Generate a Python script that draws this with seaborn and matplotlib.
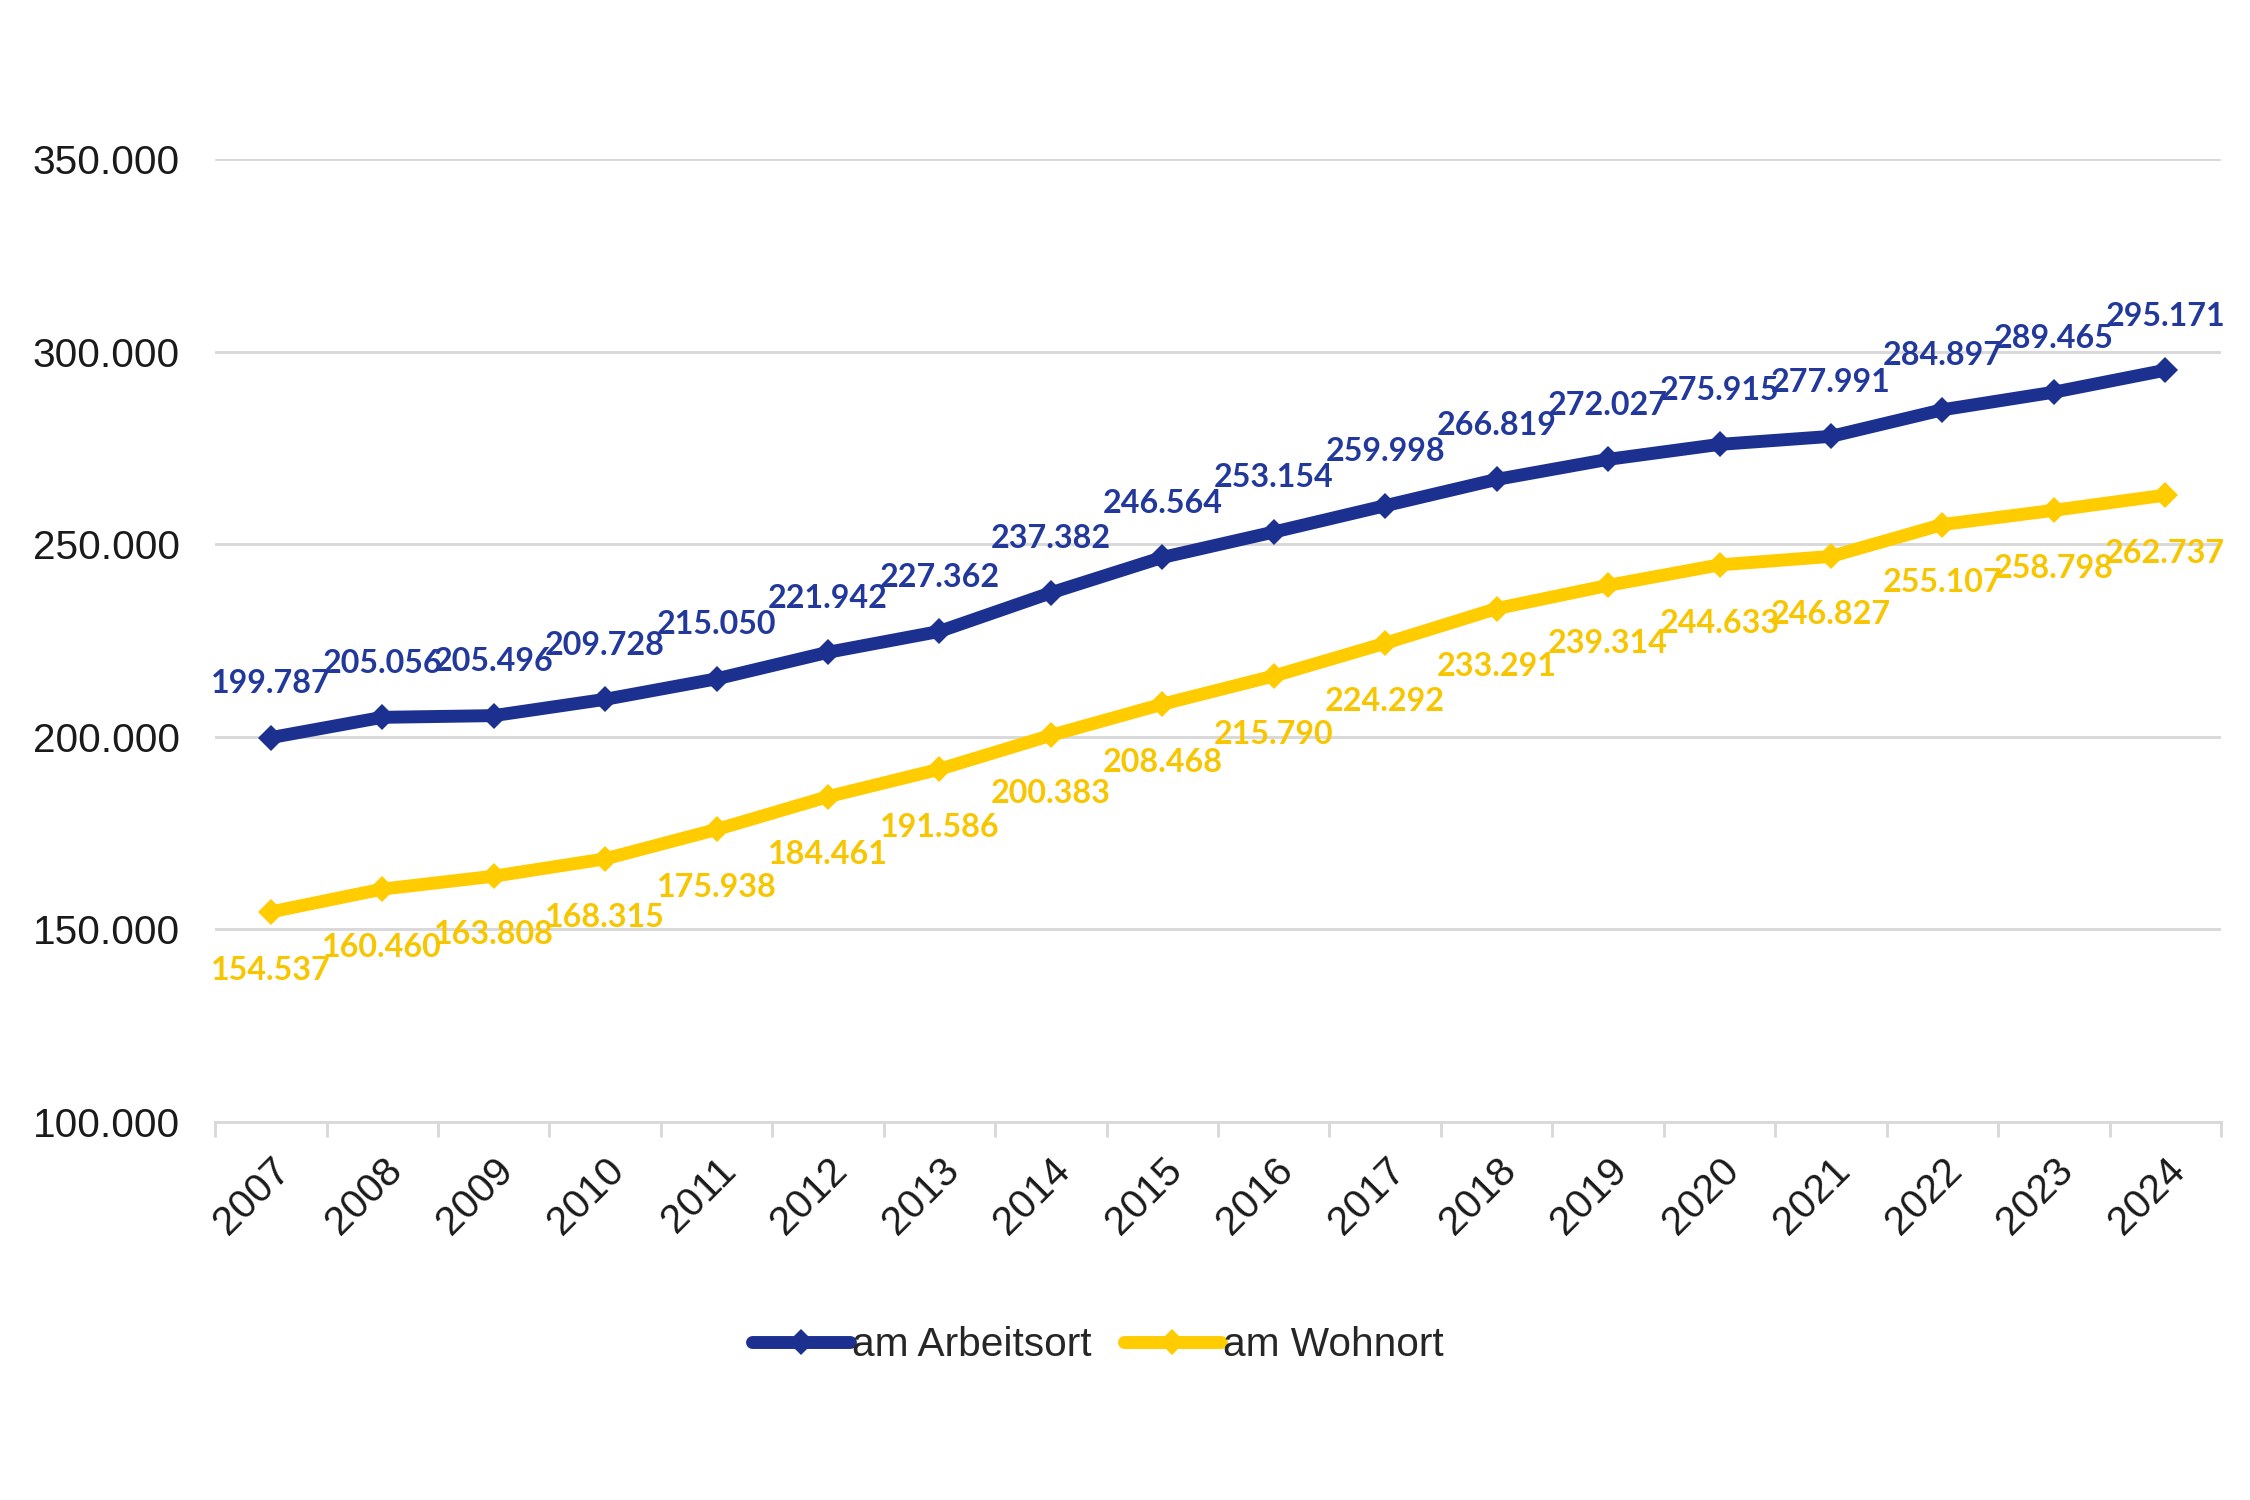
"""Beschäftigte am Arbeitsort / am Wohnort, 2007-2024."""

import matplotlib

matplotlib.use("Agg")

import matplotlib.pyplot as plt
import pandas as pd
import seaborn as sns
from matplotlib.ticker import FixedLocator, FuncFormatter

years = list(range(2007, 2025))
arbeitsort = [
    199787, 205056, 205496, 209728, 215050, 221942, 227362, 237382, 246564,
    253154, 259998, 266819, 272027, 275915, 277991, 284897, 289465, 295171,
]
wohnort = [
    154537, 160460, 163808, 168315, 175938, 184461, 191586, 200383, 208468,
    215790, 224292, 233291, 239314, 244633, 246827, 255107, 258798, 262737,
]
series_names = ["am Arbeitsort", "am Wohnort"]
y_ticks = [100000, 150000, 200000, 250000, 300000, 350000]

BLUE = "#1C318F"
BLUE_TEXT = "#22399B"
YELLOW = "#FFCC00"
YELLOW_TEXT = "#F7C600"
GRID = "#D9D9D9"


def de_number(value: float) -> str:
    return f"{value:,.0f}".replace(",", ".")


df = pd.DataFrame(
    {
        "Jahr": years * 2,
        "Wert": arbeitsort + wohnort,
        "Reihe": [series_names[0]] * len(years) + [series_names[1]] * len(years),
    }
)

sns.set_theme(style="white")
plt.rcParams["font.family"] = ["Liberation Sans", "DejaVu Sans"]

fig = plt.figure(figsize=(15, 10), dpi=150)
ax = fig.add_axes([0.0956, 0.252, 0.8915, 0.642])

sns.lineplot(
    data=df,
    x="Jahr",
    y="Wert",
    hue="Reihe",
    hue_order=series_names,
    palette=[BLUE, YELLOW],
    marker="D",
    markersize=8.5,
    markeredgewidth=0,
    linewidth=6.2,
    ax=ax,
)

ax.set_xlim(years[0] - 0.5, years[-1] + 0.5)
ax.set_ylim(y_ticks[0], y_ticks[-1])
ax.set_yticks(y_ticks)
ax.yaxis.set_major_formatter(FuncFormatter(lambda v, _: de_number(v)))
ax.grid(axis="y", color=GRID, linewidth=1.4)
ax.set_axisbelow(True)

ax.set_xticks(years)
ax.set_xticklabels([str(y) for y in years], rotation=45, ha="right",
                   rotation_mode="anchor")
ax.xaxis.set_minor_locator(FixedLocator([y - 0.5 for y in years] + [years[-1] + 0.5]))
ax.tick_params(axis="x", which="major", length=0, pad=14, labelsize=19.5,
               colors="#1A1A1A")
ax.tick_params(axis="x", which="minor", length=7, width=1.4, color=GRID,
               bottom=True)
ax.tick_params(axis="y", length=0, pad=17, labelsize=19.5, colors="#1A1A1A")

for side in ("top", "right", "left"):
    ax.spines[side].set_visible(False)
ax.spines["bottom"].set_color(GRID)
ax.spines["bottom"].set_linewidth(1.4)

ax.set_xlabel("")
ax.set_ylabel("")

label_font = {"family": ["Lato", "DejaVu Sans"], "weight": "bold", "size": 15.5}
for year, value in zip(years, arbeitsort):
    ax.annotate(de_number(value), (year, value), xytext=(0, 26),
                textcoords="offset points", ha="center", va="center",
                color=BLUE_TEXT, **label_font)
for year, value in zip(years, wohnort):
    ax.annotate(de_number(value), (year, value), xytext=(0, -28),
                textcoords="offset points", ha="center", va="center",
                color=YELLOW_TEXT, **label_font)

handles, labels = ax.get_legend_handles_labels()
ax.legend(
    handles,
    labels,
    loc="center",
    bbox_to_anchor=(0.488, 0.103),
    bbox_transform=fig.transFigure,
    ncol=2,
    frameon=False,
    fontsize=19.5,
    handlelength=2.4,
    handletextpad=0.05,
    columnspacing=0.8,
)

fig.savefig("out.png", dpi=150, facecolor="white")
